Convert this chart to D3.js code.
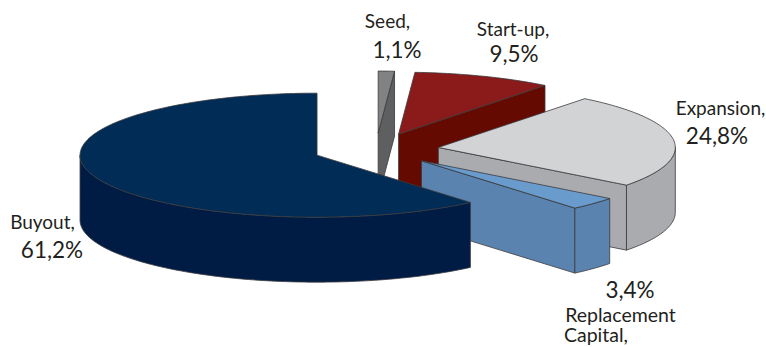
<!DOCTYPE html>
<html>
<head>
<meta charset="utf-8">
<script src="https://cdnjs.cloudflare.com/ajax/libs/d3/7.8.5/d3.min.js"></script>
<style>
  html, body { margin: 0; padding: 0; background: #fff; }
  svg { display: block; }
  text { font-family: Lato, "Open Sans", sans-serif; fill: #231f20; }
</style>
</head>
<body>
<svg id="chart" width="766" height="347"></svg>
<script>
// Investment stage shares, clockwise from twelve o'clock
const stages = ["Seed", "Start-up", "Expansion", "Replacement Capital", "Buyout"];
const shares = [1.1, 9.5, 24.8, 3.4, 61.2];
const topColours = ["#808284", "#8b1a1a", "#d1d3d4", "#699ccd", "#002c56"];
const sideColours = ["#5d5f61", "#650a00", "#a9abae", "#5a84af", "#001c45"];

// Text lines for each label: [string, x, baseline, font size]
const labelLines = [
  [["Seed,", 387.5, 28, 19], ["1,1%", 397, 58, 22.5]],
  [["Start-up,", 513, 36, 19], ["9,5%", 514, 62, 22.5]],
  [["Expansion,", 720.5, 115, 19], ["24,8%", 717, 144, 22.5]],
  [["3,4%", 630, 298, 22.5], ["Replacement", 620.5, 322, 19.5], ["Capital,", 596, 342, 19.5]],
  [["Buyout,", 42.5, 229, 19], ["61,2%", 52, 258, 22.5]]
];

const svg = d3.select("#chart");
const cx = 376, cy = 149.5;      // pie centre before slices are pulled apart
const rx = 237, ry = 62;         // ellipse radii of the tilted disc
const depth = 65;                // extrusion height
const explode = 0.265;           // pull-out distance, as a fraction of the radius

const arcs = d3.pie().sort(null).startAngle(0).endAngle(2 * Math.PI)(shares);

// Projects a polar position on the tilted disc to screen coordinates
const project = (c, a, h = 0) => [
  c[0] + rx * Math.sin(a),
  c[1] - ry * Math.cos(a) + h
];
const rimPoints = (c, a0, a1, h = 0) => {
  const n = Math.max(2, Math.ceil((a1 - a0) / 0.02));
  return d3.range(n + 1).map(i => project(c, a0 + (a1 - a0) * i / n, h));
};
const path = d3.line();

function drawSlice(d, i) {
  const mid = (d.startAngle + d.endAngle) / 2;
  const c = [cx + explode * rx * Math.sin(mid), cy - explode * ry * Math.cos(mid)];
  const g = svg.append("g").attr("class", "slice");
  const edge = { stroke: "#3a3a3c", "stroke-width": 0.8, "stroke-linejoin": "round" };
  const face = (pts, fill) => {
    const p = g.append("path").attr("d", path(pts) + "Z").attr("fill", fill);
    Object.entries(edge).forEach(([k, v]) => p.attr(k, v));
  };

  // Cut face at the clockwise end, visible while it points at the viewer
  if (d.endAngle < Math.PI) {
    const e = project(c, d.endAngle);
    face([c, e, [e[0], e[1] + depth], [c[0], c[1] + depth]], sideColours[i]);
  }
  // Curved wall along the front half of the disc
  const a0 = Math.max(d.startAngle, Math.PI / 2);
  const a1 = Math.min(d.endAngle, 3 * Math.PI / 2);
  if (a1 > a0) {
    face(rimPoints(c, a0, a1).concat(rimPoints(c, a0, a1, depth).reverse()), sideColours[i]);
  }
  // Top surface
  face([c].concat(rimPoints(c, d.startAngle, d.endAngle)), topColours[i]);
}

// Painted back to front; the arcs array already runs in that order
arcs.forEach(drawSlice);

labelLines.forEach(lines => lines.forEach(([s, x, y, size]) => {
  svg.append("text").attr("x", x).attr("y", y)
    .attr("text-anchor", "middle").attr("font-size", size).text(s);
}));
</script>
</body>
</html>
